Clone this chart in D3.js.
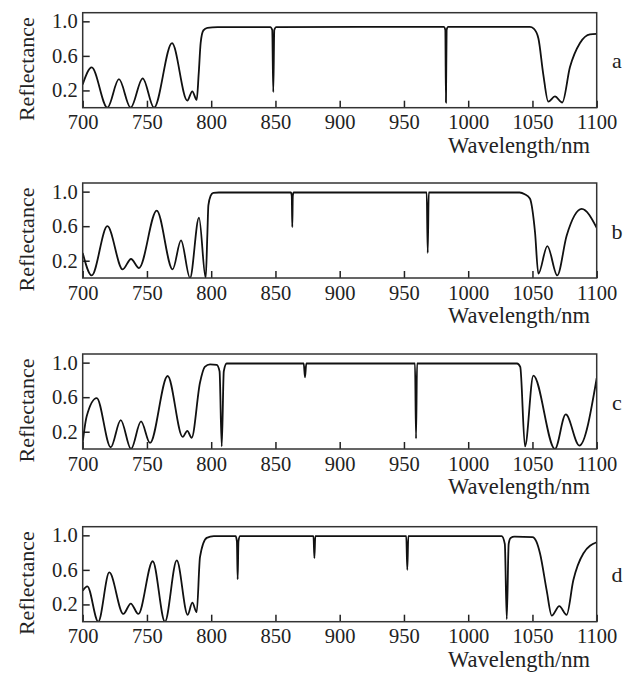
<!DOCTYPE html>
<html>
<head>
<meta charset="utf-8">
<script src="https://cdn.jsdelivr.net/npm/d3@7"></script>
<style>
  body { margin: 0; background: #fff; }
  svg text { font-family: 'Liberation Serif', 'Times New Roman', serif; fill: #222; }
</style>
</head>
<body>
<svg width="633" height="678"></svg>
<script>
// reflectance spectra (wavelength in nm)
const waveA = [700, 707, 719.2, 728.2, 737.3, 746.7, 755.5, 769.5, 781.4, 785.3, 788.7, 790.3, 791.8, 793.9, 797, 805,
  846, 847.5, 848.3, 849.1, 850.6, 981, 982.2, 982.7, 983.2, 984.4,
  1048, 1051, 1054.6, 1058.4, 1062.3, 1067.5, 1073.2, 1079.2, 1087, 1094.8, 1100];
const reflA = [0.27, 0.466, 0.0, 0.33, 0.0, 0.34, 0.0, 0.747, 0.083, 0.19, 0.09, 0.4, 0.75, 0.895, 0.925, 0.932,
  0.934, 0.9, 0.18, 0.9, 0.934, 0.935, 0.9, 0.06, 0.9, 0.935,
  0.935, 0.915, 0.805, 0.39, 0.07, 0.13, 0.06, 0.47, 0.75, 0.85, 0.855];

const waveB = [700, 707, 719.2, 731.1, 737.6, 743.8, 757.6, 770, 776.5, 783.5, 790.5, 795.7, 797, 797.8, 799.5, 801.6, 806,
  862, 862.7, 863.1, 863.5, 864.2, 967.7, 968.5, 969.3,
  1040, 1044, 1048, 1052, 1054.6, 1061.6, 1069.3, 1076.6, 1088.3, 1100];
const reflB = [0.29, 0.03, 0.60, 0.10, 0.22, 0.115, 0.78, 0.10, 0.435, 0.0, 0.70, 0.0, 0.5, 0.84, 0.95, 0.985, 0.99,
  0.99, 0.95, 0.59, 0.95, 0.99, 0.99, 0.29, 0.99,
  0.99, 0.97, 0.92, 0.53, 0.05, 0.37, 0.03, 0.49, 0.80, 0.58];

const waveC = [700, 703.1, 710.9, 721.8, 729.6, 737.6, 745.4, 752.4, 766.1, 777.8, 781.4, 784.8, 791.3, 795, 799.1, 804.3,
  806.5, 808.2, 809.8, 812, 872, 873, 874, 958.6, 959.4, 960.2,
  1038, 1040.5, 1044.2, 1050.7, 1067.5, 1075.9, 1086.5, 1100];
const reflC = [0.08, 0.38, 0.59, 0.02, 0.335, 0.0, 0.32, 0.07, 0.845, 0.14, 0.21, 0.13, 0.77, 0.95, 0.98, 0.975,
  0.9, 0.03, 0.9, 0.99, 0.99, 0.83, 0.99, 0.99, 0.12, 0.99,
  0.99, 0.95, 0.03, 0.85, 0.0, 0.40, 0.04, 0.82];

const waveD = [700, 703.6, 712.1, 720.7, 731.6, 737.4, 743.3, 754.5, 764, 773.2, 781.7, 785.3, 788.7, 791.3, 796.5, 802,
  819, 820, 820.6, 821.2, 822.5, 879.6, 880.3, 881, 951.8, 952.6, 953.4,
  1026, 1028.5, 1030, 1031.5, 1033, 1036, 1050, 1053, 1055.9, 1061.1, 1065, 1070.9, 1076.6, 1081.8, 1089.6, 1100];
const reflD = [0.36, 0.41, 0.0, 0.57, 0.09, 0.21, 0.09, 0.70, 0.0, 0.71, 0.08, 0.22, 0.11, 0.75, 0.97, 0.99,
  0.99, 0.93, 0.49, 0.93, 0.99, 0.99, 0.735, 0.99, 0.99, 0.60, 0.99,
  0.99, 0.9, 0.03, 0.9, 0.97, 0.985, 0.98, 0.93, 0.79, 0.36, 0.07, 0.18, 0.08, 0.48, 0.79, 0.92];

const panelLabels = ['a', 'b', 'c', 'd'];
const xTicks = [700, 750, 800, 850, 900, 950, 1000, 1050, 1100];
const yTicks = [0.2, 0.6, 1.0];

const panels = [
  { label: panelLabels[0], wave: waveA, refl: reflA },
  { label: panelLabels[1], wave: waveB, refl: reflB },
  { label: panelLabels[2], wave: waveC, refl: reflC },
  { label: panelLabels[3], wave: waveD, refl: reflD }
];

const svg = d3.select('svg');
const left = 82.7, right = 596.7, plotH = 95;
const tops = [12.7, 183, 354, 526.7];

const x = d3.scaleLinear().domain([700, 1100]).range([0, right - left]);

panels.forEach(function (p, i) {
  const y = d3.scaleLinear().domain([0, 1.1]).range([plotH, 0]);
  const g = svg.append('g')
    .attr('transform', 'translate(' + left + ',' + tops[i] + ')');

  const clipId = 'clip' + i;
  g.append('clipPath').attr('id', clipId)
    .append('rect').attr('width', right - left).attr('height', plotH);

  const xAxis = d3.axisBottom(x).tickValues(xTicks).tickSize(-7).tickPadding(7).tickFormat(d3.format('d'));
  const xg = g.append('g').attr('transform', 'translate(0,' + plotH + ')').call(xAxis);
  const yAxis = d3.axisLeft(y).tickValues(yTicks).tickSize(-7).tickPadding(5).tickFormat(d3.format('.1f'));
  const yg = g.append('g').call(yAxis);

  [xg, yg].forEach(function (a) {
    a.select('.domain').remove();
    a.selectAll('line').attr('stroke', '#222').attr('stroke-width', 1.5);
    a.selectAll('text').style('font-size', '20.5px').attr('fill', '#222');
  });

  const line = d3.line()
    .x(function (d) { return x(d[0]); })
    .y(function (d) { return y(d[1]); })
    .curve(d3.curveMonotoneX);

  g.append('path')
    .datum(d3.zip(p.wave, p.refl))
    .attr('clip-path', 'url(#' + clipId + ')')
    .attr('fill', 'none')
    .attr('stroke', '#111')
    .attr('stroke-width', 1.8)
    .attr('d', line);

  g.append('rect')
    .attr('width', right - left)
    .attr('height', plotH)
    .attr('fill', 'none')
    .attr('stroke', '#333')
    .attr('stroke-width', 1.5);

  g.append('text')
    .attr('transform', 'translate(' + (26 - left) + ',' + (plotH / 2 + 9) + ') rotate(-90)')
    .attr('text-anchor', 'middle')
    .attr('dy', '0.35em')
    .style('font-size', '22px')
    .text('Reflectance');

  g.append('text')
    .attr('x', 590 - left)
    .attr('y', plotH + 45)
    .attr('text-anchor', 'end')
    .style('font-size', '22.5px')
    .text('Wavelength/nm');

  g.append('text')
    .attr('x', 617 - left)
    .attr('y', plotH / 2 + 8)
    .attr('text-anchor', 'middle')
    .style('font-size', '22px')
    .text(p.label);
});
</script>
</body>
</html>
